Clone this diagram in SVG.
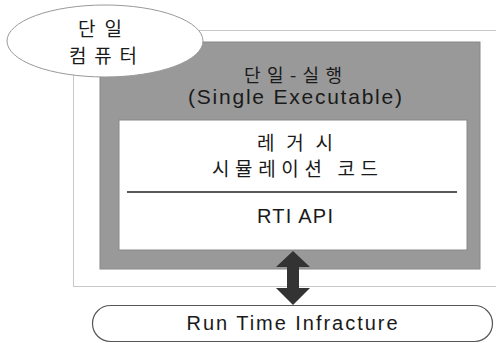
<svg xmlns="http://www.w3.org/2000/svg" width="496" height="343" viewBox="0 0 496 343">
<style>
.t{font-family:"Noto Sans CJK KR","Liberation Sans",sans-serif;fill:#1a1a1a;text-anchor:middle;font-weight:400;}
.l{font-family:"Liberation Sans","Noto Sans CJK KR",sans-serif;fill:#1a1a1a;text-anchor:middle;}
</style>
<rect width="496" height="343" fill="#fff"/>
<g id="computer-frame">
<rect x="73.5" y="30.5" width="430" height="256" fill="none" stroke="#c8c8c8" stroke-width="1"/>
</g>
<g id="single-executable">
<rect x="100" y="42" width="380" height="227" fill="#999" stroke="#888" stroke-width="1"/>
<text class="t" x="293" y="82" font-size="18" textLength="98" lengthAdjust="spacing">단일-실행</text>
<text class="l" x="295" y="104" font-size="21" textLength="214" lengthAdjust="spacing">(Single Executable)</text>
</g>
<g id="inner-box">
<rect x="119" y="120" width="348" height="130" fill="#fff" stroke="#888" stroke-width="1"/>
<text class="t" x="295" y="150" font-size="19" textLength="76" lengthAdjust="spacing">레거시</text>
<text class="t" x="295" y="176" font-size="19" textLength="166" lengthAdjust="spacing">시뮬레이션 코드</text>
<line x1="127" y1="192" x2="457" y2="192" stroke="#222" stroke-width="1.5"/>
<text class="l" x="295" y="223" font-size="20" textLength="76" lengthAdjust="spacing">RTI API</text>
</g>
<g id="single-computer">
<ellipse cx="105" cy="41" rx="98" ry="36" fill="#fff" stroke="#999" stroke-width="1"/>
<text class="t" x="100" y="36" font-size="19" textLength="44" lengthAdjust="spacing">단일</text>
<text class="t" x="103" y="63" font-size="19" textLength="68" lengthAdjust="spacing">컴퓨터</text>
</g>
<g id="connectors">
<polygon points="293,251 310,267 299,267 299,288 310,288 293,305 276,288 287,288 287,267 276,267" fill="#333"/>
</g>
<g id="rti">
<rect x="92.5" y="305.5" width="400" height="36" rx="18" ry="18" fill="#fff" stroke="#555" stroke-width="1.2"/>
<text class="l" x="292" y="330" font-size="20" textLength="211" lengthAdjust="spacing">Run Time Infracture</text>
</g>
</svg>
